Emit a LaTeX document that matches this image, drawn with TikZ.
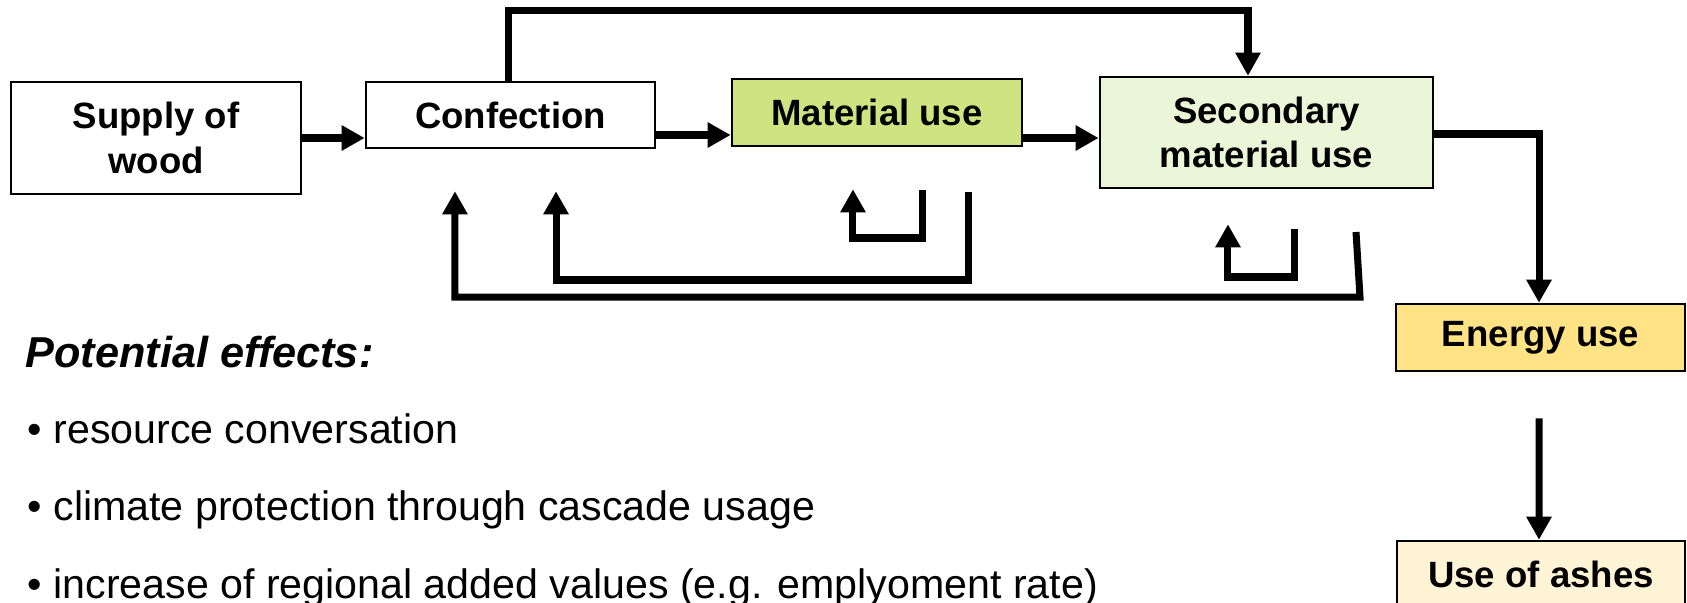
\documentclass[tikz,border=0pt]{standalone}
\usepackage{fontspec}
\setmainfont{Liberation Sans}
\usetikzlibrary{positioning,arrows.meta,calc}

\definecolor{grmat}{RGB}{207,227,129}
\definecolor{grsek}{RGB}{235,245,215}
\definecolor{geen}{RGB}{255,227,133}
\definecolor{geas}{RGB}{255,244,213}

\begin{document}
\begin{tikzpicture}[x=0.01cm,y=-0.01cm,
    kasten/.style={draw,line width=0.7pt,align=center,inner sep=0pt,
      font=\bfseries\fontsize{10.4}{12.7}\selectfont},
    pfeil/.style={line width=0.07cm,-{Triangle[length=0.23cm,width=0.24cm]}},
    dick/.style={pfeil,line width=0.08cm},
    punkt/.style={anchor=base west,inner sep=0pt,font=\fontsize{11.7}{14}\selectfont}]

            \useasboundingbox (0,0) rectangle (1687,603);

            \node[kasten,minimum width=2.9cm,minimum height=1.12cm] (sw) at (156,138) {Supply of\\wood};
            \node[kasten,minimum width=2.89cm,minimum height=0.66cm] (co) at (510.5,115) {Confection};
            \node[kasten,fill=grmat,minimum width=2.9cm,minimum height=0.67cm] (mu) at (877,112.5) {Material use};
            \node[kasten,fill=grsek,minimum width=3.33cm,minimum height=1.11cm] (smu) at (1266.5,132.5) {Secondary\\material use};
            \node[kasten,fill=geen,minimum width=2.89cm,minimum height=0.67cm] (eu) at (1540.5,337.5) {Energy use};
            \node[kasten,fill=geas,minimum width=2.88cm,minimum height=0.67cm] (ua) at (1541,574.5) {Use of ashes};

            \draw[dick] (sw.east) -- (sw.east -| co.west);
            \draw[dick] ([yshift=-0.2cm]co.east) -- ([yshift=-0.2cm]co.east -| mu.west);
            \draw[dick] ([yshift=-0.255cm]mu.east) -- ([yshift=-0.255cm]mu.east -| smu.west);

            \draw[pfeil] ([xshift=-0.025cm]co.north) -- ++(0,-70) -| ([xshift=-0.185cm]smu.north);
            \draw[pfeil] ([yshift=-0.015cm]smu.east) -| ([xshift=-0.015cm]eu.north);
            \draw[pfeil] ([xshift=-0.015cm,yshift=-0.46cm]eu.south) -- ([xshift=-0.02cm]ua.north);

        %Rueckfuehrung
            \coordinate (r1) at (1356,232);
            \coordinate (r2) at (968,192);
            \coordinate (r3) at (922,190);
            \coordinate (r4) at (1294,229);
            \draw[pfeil] (r1) -- (1360,297) -| ([xshift=-0.555cm,yshift=-0.42cm]co.south);
            \draw[pfeil] (r2) -- ++(0,88) -| ([xshift=0.455cm,yshift=-0.42cm]co.south);
            \draw[pfeil] (r3) -- ++(0,48) -| ([xshift=-0.24cm,yshift=-0.42cm]mu.south);
            \draw[pfeil] (r4) -- ++(0,48) -| ([xshift=-0.385cm,yshift=-0.35cm]smu.south);

            \node[punkt,font=\bfseries\itshape\fontsize{12.3}{14}\selectfont] (pe) at (25,367) {Potential effects:};
            \node[punkt] (p1) at (27,443) {\textbullet\ resource conversation};
            \node[punkt] (p2) at (27,520) {\textbullet\ climate protection through cascade usage};
            \node[punkt] (p3) at (27,598) {\textbullet\ increase of regional added values (e.g. emplyoment rate)};
        \end{tikzpicture}
\end{document}
